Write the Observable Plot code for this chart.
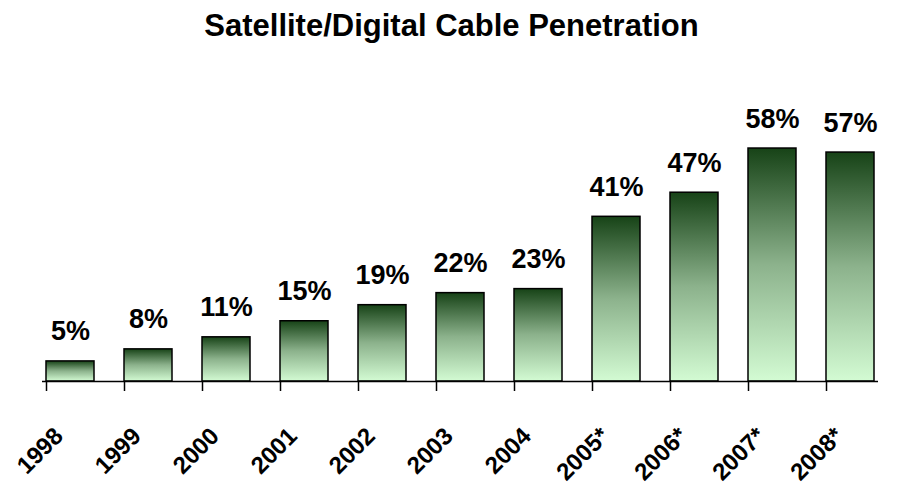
<!DOCTYPE html>
<html>
<head>
<meta charset="utf-8">
<script src="https://cdn.jsdelivr.net/npm/d3@7"></script>
<script src="https://cdn.jsdelivr.net/npm/@observablehq/plot@0.6"></script>
<style>
  body { margin: 0; background: #fff; font-family: "Liberation Sans", Arial, sans-serif; }
  #title { height: 50px; line-height: 52px; text-align: center; font-weight: bold; font-size: 31px; color: #000; }
</style>
</head>
<body>
<div id="title">Satellite/Digital Cable Penetration</div>
<div id="chart"></div>
<script>
const years = ["1998", "1999", "2000", "2001", "2002", "2003", "2004", "2005*", "2006*", "2007*", "2008*"];
const values = [5, 8, 11, 15, 19, 22, 23, 41, 47, 58, 57];
const data = years.map((y, i) => ({year: y, value: values[i]}));

const plot = Plot.plot({
  width: 903,
  height: 440,
  marginTop: 90,
  marginBottom: 109,
  marginLeft: 42,
  marginRight: 25,
  style: { fontFamily: "'Liberation Sans', Arial, sans-serif", background: "#fff" },
  x: { type: "band", domain: years, paddingInner: 0.39, paddingOuter: 0, axis: null },
  y: { domain: [0, 60], axis: null },
  marks: [
    Plot.barY(data, { x: "year", y: "value", fill: "url(#barGrad)", stroke: "#000", strokeWidth: 1.5 }),
    Plot.ruleY([0], { stroke: "#000", strokeWidth: 1.5 }),
    Plot.axisX({ tickSize: 10, tickFormat: () => "", dx: -24, stroke: "#000", strokeWidth: 1.5, label: null }),
    Plot.text(data, { x: "year", y: "value", text: d => d.value + "%", dy: -21, lineAnchor: "bottom",
      fontSize: 27, fontWeight: "bold", fill: "#000" }),
    Plot.text(data, { x: "year", text: "year", frameAnchor: "bottom", dy: 56, dx: -6, rotate: -45,
      textAnchor: "end", lineAnchor: "bottom", fontSize: 24, fontWeight: "bold", fill: "#000",
      style: "letter-spacing:-1.8px" })
  ]
});

// gradient definition for the bars
const ns = "http://www.w3.org/2000/svg";
const defs = document.createElementNS(ns, "defs");
const grad = document.createElementNS(ns, "linearGradient");
grad.setAttribute("id", "barGrad");
grad.setAttribute("x1", "0"); grad.setAttribute("y1", "0");
grad.setAttribute("x2", "0"); grad.setAttribute("y2", "1");
[["0", "#174317"], ["0.5", "#8cb28c"], ["1", "#d3fbd3"]].forEach(([o, c]) => {
  const s = document.createElementNS(ns, "stop");
  s.setAttribute("offset", o); s.setAttribute("stop-color", c);
  grad.appendChild(s);
});
defs.appendChild(grad);
plot.insertBefore(defs, plot.firstChild);
document.getElementById("chart").appendChild(plot);
</script>
</body>
</html>
